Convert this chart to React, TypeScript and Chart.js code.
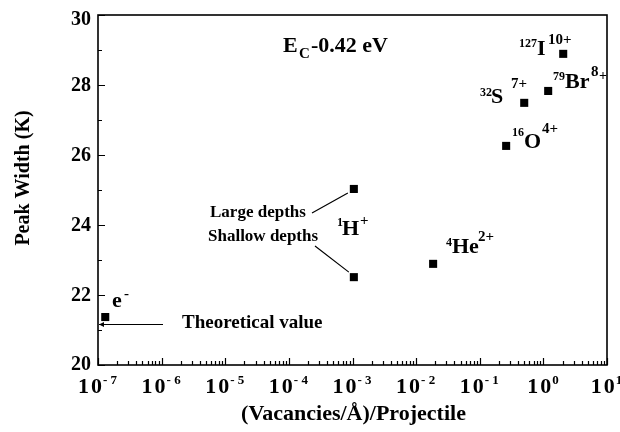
import React, { useEffect, useRef } from "react";
import { Chart, registerables } from "chart.js";

Chart.register(...registerables);

// ---- data ----
const species = ["e-", "1H+ (large depths)", "1H+ (shallow depths)", "4He2+", "16O4+", "32S7+", "79Br8+", "127I10+"];
const vacancies = [1.3e-7, 1.05e-3, 1.05e-3, 0.0185, 0.26, 0.5, 1.19, 2.05];
const peakWidths = [21.37, 25.03, 22.51, 22.89, 26.26, 27.49, 27.83, 28.89];
const theoreticalValue = [21.18];
const yMajorTicks = [20, 22, 24, 26, 28, 30];
const yMinorTicks = [21, 23, 25, 27, 29];
const xDecadeExponents = [-7, -6, -5, -4, -3, -2, -1, 0, 1];
const xMinorMultipliers = [2, 3, 4, 5, 6, 7, 8, 9];

const SERIF = '"Liberation Serif", "Times New Roman", serif';

const annotPlugin = {
  id: "annot",
  afterDraw(chart: any) {
    const { ctx, chartArea: ca, scales } = chart;
    const x = scales.x;
    const y = scales.y;
    ctx.save();
    ctx.strokeStyle = "#000";
    ctx.fillStyle = "#000";
    // frame
    ctx.lineWidth = 1.6;
    ctx.strokeRect(ca.left, ca.top, ca.right - ca.left, ca.bottom - ca.top);
    ctx.lineWidth = 1.2;
    // y ticks (inward)
    ctx.beginPath();
    yMajorTicks.forEach((v) => {
      const py = Math.round(y.getPixelForValue(v)) + 0.5;
      ctx.moveTo(ca.left, py);
      ctx.lineTo(ca.left + 7, py);
    });
    yMinorTicks.forEach((v) => {
      const py = Math.round(y.getPixelForValue(v)) + 0.5;
      ctx.moveTo(ca.left, py);
      ctx.lineTo(ca.left + 4, py);
    });
    // x ticks (inward)
    xDecadeExponents.forEach((k) => {
      const px = Math.round(x.getPixelForValue(Math.pow(10, k))) + 0.5;
      ctx.moveTo(px, ca.bottom);
      ctx.lineTo(px, ca.bottom - 7);
      if (k < 1) {
        xMinorMultipliers.forEach((m) => {
          const qx = Math.round(x.getPixelForValue(m * Math.pow(10, k))) + 0.5;
          ctx.moveTo(qx, ca.bottom);
          ctx.lineTo(qx, ca.bottom - 4);
        });
      }
    });
    ctx.stroke();

    // y tick labels
    ctx.font = `bold 20px ${SERIF}`;
    ctx.textAlign = "right";
    ctx.textBaseline = "middle";
    yMajorTicks.forEach((v) => {
      let py = y.getPixelForValue(v);
      if (v === 30) py += 4;
      if (v === 20) py -= 1;
      ctx.fillText(String(v), 91, py + 1);
    });

    // x tick labels: 10^k
    ctx.textBaseline = "alphabetic";
    ctx.textAlign = "left";
    xDecadeExponents.forEach((k) => {
      const px = x.getPixelForValue(Math.pow(10, k));
      const big = `bold 22px ${SERIF}`;
      const small = `bold 13px ${SERIF}`;
      ctx.font = big;
      const w1a = ctx.measureText("1").width;
      const w1b = ctx.measureText("0").width;
      const gap = 2;
      const w1 = w1a + gap + w1b;
      ctx.font = small;
      const expText = k < 0 ? "- " + Math.abs(k) : String(k);
      const w2 = ctx.measureText(expText).width;
      const start = px - (w1 + w2) / 2 - 1;
      ctx.font = big;
      ctx.fillText("1", start, 393);
      ctx.fillText("0", start + w1a + gap, 393);
      ctx.font = small;
      ctx.fillText(expText, start + w1 + 1, 384);
    });

    // axis titles
    ctx.font = `bold 22px ${SERIF}`;
    ctx.textAlign = "center";
    ctx.fillText("(Vacancies/Å)/Projectile", (ca.left + ca.right) / 2 + 1, 420);
    ctx.save();
    ctx.translate(29, 178);
    ctx.rotate(-Math.PI / 2);
    ctx.font = `bold 20px ${SERIF}`;
    ctx.fillText("Peak Width (K)", 0, 0);
    ctx.restore();

    // text pieces: [text, x, baseline, size]
    const pieces: [string, number, number, number][] = [
      ["E", 283, 52, 22], ["C", 299, 58, 15], ["-0.42 eV", 311, 52, 22],
      ["127", 519, 47, 12], ["I", 537, 55, 22], ["10+", 548, 44, 15],
      ["79", 553, 80, 12], ["Br", 565, 88, 22], ["8", 591, 76, 15], ["+", 599, 80, 14],
      ["32", 480, 96, 12], ["S", 491, 103, 22], ["7+", 511, 88, 15],
      ["16", 512, 136, 12], ["O", 524, 148, 22], ["4+", 542, 133, 15],
      ["1", 337, 226, 12], ["H", 342, 235, 22], ["+", 360, 225, 15],
      ["4", 446, 246, 12], ["He", 452, 253, 22], ["2+", 478, 241, 15],
      ["e", 112, 307, 22], ["-", 124, 298, 15],
      ["Large depths", 210, 217, 17], ["Shallow depths", 208, 241, 17],
      ["Theoretical value", 182, 328, 19],
    ];
    ctx.textAlign = "left";
    pieces.forEach(([t, px, py, s]) => {
      ctx.font = `bold ${s}px ${SERIF}`;
      ctx.fillText(t, px, py);
    });

    // connectors
    ctx.lineWidth = 1.2;
    const hx = x.getPixelForValue(vacancies[1]);
    const hyL = y.getPixelForValue(peakWidths[1]);
    const hyS = y.getPixelForValue(peakWidths[2]);
    ctx.beginPath();
    ctx.moveTo(312, 213);
    ctx.lineTo(hx - 6, hyL + 4);
    ctx.moveTo(315, 246);
    ctx.lineTo(hx - 5, hyS - 5);
    // theoretical value line
    const ty = Math.round(y.getPixelForValue(theoreticalValue[0])) + 0.5;
    ctx.moveTo(ca.left + 1, ty);
    ctx.lineTo(163, ty);
    ctx.stroke();
    ctx.beginPath();
    ctx.moveTo(ca.left + 1, ty);
    ctx.lineTo(ca.left + 6, ty - 2.5);
    ctx.lineTo(ca.left + 6, ty + 2.5);
    ctx.closePath();
    ctx.fill();
    ctx.restore();
  },
};

export default function App() {
  const ref = useRef<HTMLCanvasElement | null>(null);
  useEffect(() => {
    if (!ref.current) return;
    const chart = new Chart(ref.current, {
      type: "scatter",
      data: {
        datasets: [
          {
            label: "Peak width",
            data: vacancies.map((v, i) => ({ x: v, y: peakWidths[i] })),
            backgroundColor: "#000",
            borderColor: "#000",
            borderWidth: 0,
            pointStyle: "rect",
            pointRadius: 5.7,
          },
        ],
      },
      options: {
        responsive: false,
        animation: false,
        events: [],
        layout: { padding: { left: 0, right: 13, top: 15, bottom: 0 } },
        plugins: { legend: { display: false }, tooltip: { enabled: false }, title: { display: false } },
        scales: {
          x: {
            type: "logarithmic",
            min: 1e-7,
            max: 10,
            ticks: { display: false },
            grid: { display: false, drawTicks: false },
            border: { display: false },
            afterFit: (s: any) => { s.height = 67; },
          },
          y: {
            type: "linear",
            min: 20,
            max: 30,
            ticks: { display: false, stepSize: 2 },
            grid: { display: false, drawTicks: false },
            border: { display: false },
            afterFit: (s: any) => { s.width = 98; },
          },
        },
      },
      plugins: [annotPlugin],
    });
    return () => chart.destroy();
  }, []);
  return (
    <div style={{ position: "fixed", left: 0, top: 0, width: 620, height: 432, background: "#fff" }}>
      <canvas ref={ref} width={620} height={432} style={{ width: 620, height: 432, display: "block" }} />
    </div>
  );
}
